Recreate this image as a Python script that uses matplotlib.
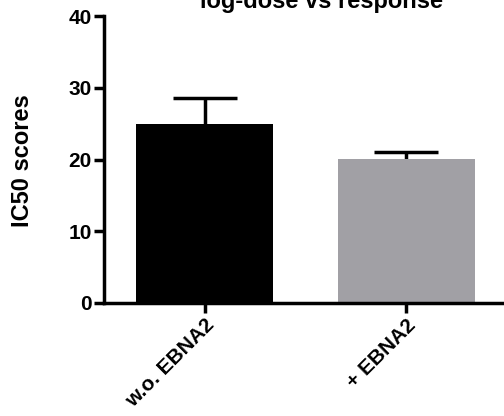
import numpy as np
import matplotlib.pyplot as plt

plt.rcParams['font.family'] = ['Liberation Sans', 'DejaVu Sans']

groups = ['w.o. EBNA2', '+ EBNA2']
ic50 = [25.0, 20.1]
err_up = [3.6, 0.9]
colors = ['#000000', '#a1a0a5']

fig = plt.figure(figsize=(5.04, 4.16), dpi=100)
ax = fig.add_axes([104/504, 1-303/416, 403/504, 287/416])

x = np.arange(len(groups))
ic50 = np.array(ic50)
top = ic50 + np.array(err_up)
ax.bar(x, ic50, width=0.68, color=colors, zorder=2)
# upper error bars only
ax.vlines(x, ic50, top, color='black', lw=2.5, zorder=1)
ax.hlines(top, x - 0.16, x + 0.16, color='black', lw=2.5, zorder=1)

ax.set_xlim(-0.5, 1.5)
ax.set_ylim(0, 40)
ax.set_yticks([0, 10, 20, 30, 40])
ax.set_xticks(x)
ax.set_xticklabels(groups, rotation=45, ha='right', rotation_mode='anchor')

for s in ['top', 'right']:
    ax.spines[s].set_visible(False)
for s in ['left', 'bottom']:
    ax.spines[s].set_linewidth(2.5)
ax.tick_params(width=2.5, length=7, labelsize=15, pad=2)
for lab in ax.get_xticklabels() + ax.get_yticklabels():
    lab.set_fontweight('bold')

fig.text(23/504, 1-161/416, 'IC50 scores', rotation=90, ha='center', va='center',
         fontsize=17, fontweight='bold')
fig.text(321/504, 1-8/416, 'log-dose vs response', ha='center', va='baseline',
         fontsize=17, fontweight='bold')

fig.savefig('out.png', dpi=100)
